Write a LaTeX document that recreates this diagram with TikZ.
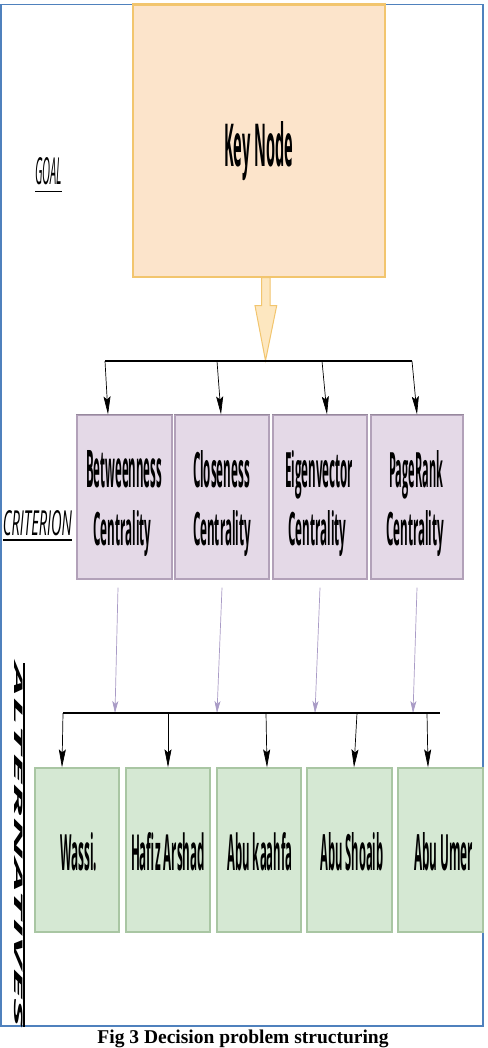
\documentclass[tikz,border=0pt]{standalone}
\usepackage{graphicx}
\usepackage{fontspec}
\setmainfont{Liberation Serif}
\newfontfamily\cfont{Open Sans}
\usetikzlibrary{arrows.meta,calc}
\definecolor{frameblue}{HTML}{4F81BD}
\definecolor{keyfill}{HTML}{FCE4CB}
\definecolor{keyline}{HTML}{F2C56E}
\definecolor{hollowfill}{HTML}{FDE7C0}
\definecolor{lavfill}{HTML}{E4D9E7}
\definecolor{lavline}{HTML}{B2A1B9}
\definecolor{lavarrow}{HTML}{A99BC6}
\definecolor{grnfill}{HTML}{D5E8D3}
\definecolor{grnline}{HTML}{A9C6A3}
\newcommand{\rt}[3]{\resizebox{#1pt}{#2pt}{\cfont\bfseries #3}}
\newcommand{\rl}[3]{\resizebox{#1pt}{#2pt}{\cfont\itshape #3}}
\tikzset{
  keybox/.style={draw=keyline, fill=keyfill, line width=1.2pt, minimum width=252pt, minimum height=272pt, inner sep=0pt},
  critbox/.style={draw=lavline, fill=lavfill, line width=1.2pt, minimum height=164pt, inner sep=0pt},
  altbox/.style={draw=grnline, fill=grnfill, line width=1.2pt, minimum height=164pt, inner sep=0pt},
  lbl/.style={anchor=base, inner sep=0pt},
  bar/.style={line width=2pt, black},
  blackarrow/.style={-{Stealth[length=18pt,width=7pt,inset=3pt]}, line width=0.7pt, black},
  lavarr/.style={-{Stealth[length=12pt,width=6pt,inset=3pt]}, line width=0.7pt, lavarrow},
}
\begin{document}
\begin{tikzpicture}[x=1pt,y=-1pt]
\useasboundingbox (0,0) rectangle (487,1048);
\fill[white] (0,0) rectangle (487,1048);
% frame
\draw[frameblue, line width=1.2pt] (1,4.5) rectangle (483,1026);

% goal
\node[keybox] (key) at (259,141) {};
\draw[keyline, line width=2.5pt] (key.north west) -- (key.north east);
\node[lbl] (keyt) at (258.7,166.7) {\rt{69}{45}{Key Node}};

% hollow arrow
\draw[keyline, fill=hollowfill, line width=1pt]
  ($(key.south)+(2.7,0)$) -- ($(key.south)+(11,0)$) -- ($(key.south)+(11,28)$) -- ($(key.south)+(17.7,28)$)
  -- ($(key.south)+(6.5,83)$) -- ($(key.south)+(-4,28)$) -- ($(key.south)+(2.7,28)$) -- cycle;

% top bar
\coordinate (tb1) at (105,361);
\coordinate (tb2) at (217,361);
\coordinate (tb3) at (322,361);
\coordinate (tb4) at (412,361);
\draw[bar] (tb1) -- (tb4);

% criteria boxes
\node[critbox, minimum width=95pt] (c1) at (124.5,497) {};
\node[critbox, minimum width=94pt] (c2) at (222,497) {};
\node[critbox, minimum width=94pt] (c3) at (320,497) {};
\node[critbox, minimum width=92pt] (c4) at (417,497) {};
\foreach \c in {c1,c2,c3,c4}{\draw[lavline!85!black, line width=1.8pt] (\c.north west) -- (\c.north east);}

\node[lbl] (c1a) at (124,487) {\rt{76}{37}{Betweenness}};
\node[lbl] (c1b) at (122.5,545) {\rt{58}{35}{Centrality}};
\node[lbl] (c2a) at (221.5,487) {\rt{57}{37}{Closeness}};
\node[lbl] (c2b) at (222,545) {\rt{58}{35}{Centrality}};
\node[lbl] (c3a) at (319,487) {\rt{68}{37}{Eigenvector}};
\node[lbl] (c3b) at (317.5,545) {\rt{58}{35}{Centrality}};
\node[lbl] (c4a) at (416,487) {\rt{54}{37}{PageRank}};
\node[lbl] (c4b) at (415,545) {\rt{58}{35}{Centrality}};

\draw[blackarrow] (tb1) -- ($(c1.north)+(-16.5,0)$);
\draw[blackarrow] (tb2) -- ($(c2.north)+(-1,0)$);
\draw[blackarrow] (tb3) -- ($(c3.north)+(7,0)$);
\draw[blackarrow] (tb4) -- ($(c4.north)+(0,0)$);

% bottom bar
\coordinate (bb0) at (63,713);
\coordinate (bb1) at (115,713);
\coordinate (bb2) at (217,713);
\coordinate (bb3) at (315,713);
\coordinate (bb4) at (413,713);
\coordinate (bbA) at (168,713);
\coordinate (bbB) at (266,713);
\coordinate (bbC) at (357,713);
\coordinate (bbD) at (427,713);
\coordinate (bbE) at (440,713);

\draw[lavarr] ($(c1.south)+(-6.5,8)$) -- (bb1);
\draw[lavarr] ($(c2.south)+(0,8)$) -- (bb2);
\draw[lavarr] ($(c3.south)+(0,8)$) -- (bb3);
\draw[lavarr] ($(c4.south)+(0,8)$) -- (bb4);
\draw[bar] (bb0) -- (bbE);

% alternatives boxes
\node[altbox, minimum width=84pt] (a1) at (77,850) {};
\node[altbox, minimum width=84pt] (a2) at (168,850) {};
\node[altbox, minimum width=84pt] (a3) at (259,850) {};
\node[altbox, minimum width=85pt] (a4) at (349.5,850) {};
\node[altbox, minimum width=85pt] (a5) at (440.5,850) {};
\node[lbl] (a1t) at (78.5,870) {\rt{37}{38}{Wassi.}};
\node[lbl] (a2t) at (168,870) {\rt{74}{38}{Hafiz Arshad}};
\node[lbl] (a3t) at (260,870) {\rt{65}{38}{Abu kaahfa}};
\node[lbl] (a4t) at (352,870) {\rt{63}{38}{Abu Shoaib}};
\node[lbl] (a5t) at (443.5,870) {\rt{59}{38}{Abu Umer}};

\draw[blackarrow] (bb0) -- ($(a1.north)+(-15,0)$);
\draw[blackarrow] (bbA) -- ($(a2.north)+(0,0)$);
\draw[blackarrow] (bbB) -- ($(a3.north)+(8,0)$);
\draw[blackarrow] (bbC) -- ($(a4.north)+(4.5,0)$);
\draw[blackarrow] (bbD) -- ($(a5.north)+(-12.5,0)$);

% level labels
\node[lbl] (goal) at (48.5,185) {\rl{27}{27}{GOAL}};
\draw[line width=1.3pt] ($(goal.base)+(-13.5,6.5)$) -- ($(goal.base)+(13.5,6.5)$);
\node[lbl] (crit) at (37.5,535) {\rl{69}{25}{CRITERION}};
\draw[line width=1.3pt] ($(crit.base)+(-34.5,5)$) -- ($(crit.base)+(34.5,5)$);
\node[inner sep=0pt, rotate=-90] (alt) at (19,845) {\resizebox{364pt}{8.5pt}{\cfont\bfseries\itshape ALTERNATIVES}};
\draw[line width=1.2pt] ($(alt.center)+(5,-182)$) -- ($(alt.center)+(5,182)$);

% caption
\node[lbl] (cap) at (243,1043.5) {\fontsize{19.5}{22}\selectfont\bfseries Fig 3 Decision problem structuring};
\end{tikzpicture}
\end{document}
